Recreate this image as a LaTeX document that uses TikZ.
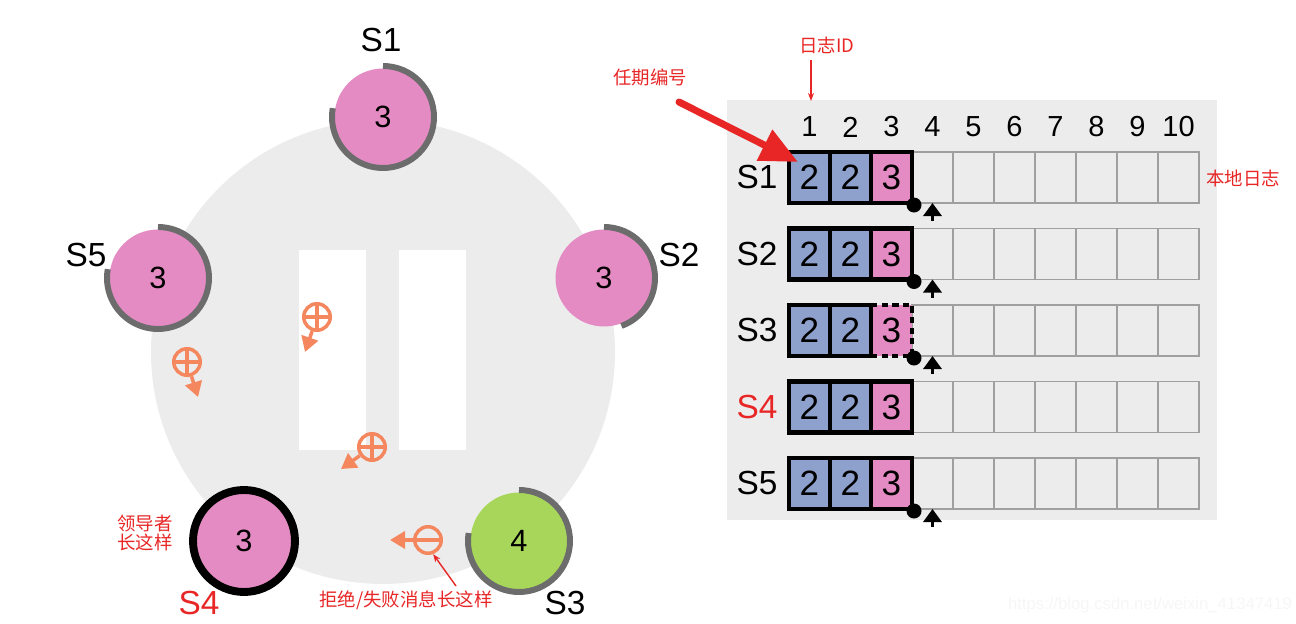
\documentclass[tikz,border=0pt]{standalone}
\usepackage{fontspec}
\setmainfont{Liberation Sans}
\newfontfamily\cjk{Noto Sans CJK SC}
\usepackage{tikz}
\usetikzlibrary{arrows.meta,calc,positioning}
\definecolor{bgray}{RGB}{236,236,236}
\definecolor{termpink}{RGB}{229,139,196}
\definecolor{termblue}{RGB}{142,160,204}
\definecolor{termgreen}{RGB}{168,214,90}
\definecolor{ringgray}{RGB}{108,108,108}
\definecolor{msgorange}{RGB}{245,135,95}
\definecolor{notered}{RGB}{232,38,38}

\begin{document}
\begin{tikzpicture}[x=0.02cm,y=0.02cm,
  server/.style={circle,minimum size=1.94cm,inner sep=0,fill=termpink,font=\fontsize{17.5}{17.5}\selectfont},
  timer/.style={ringgray,line width=3.4pt},
  sname/.style={font=\fontsize{19}{19}\selectfont},
  msg/.style={circle,draw=msgorange,line width=2pt,minimum size=0.53cm,inner sep=0},
  plusmsg/.style={msg,path picture={\draw[msgorange,line width=1.8pt]
      (path picture bounding box.north) -- (path picture bounding box.south)
      (path picture bounding box.west) -- (path picture bounding box.east);}},
  minusmsg/.style={msg,path picture={\draw[msgorange,line width=1.8pt]
      (path picture bounding box.west) -- (path picture bounding box.east);}},
  msgarrow/.style={msgorange,line width=2pt,-{Triangle[length=0.3cm,width=0.34cm]}},
  note/.style={notered,font=\cjk\fontsize{10.5}{10.5}\selectfont,align=center},
  noteline/.style={notered,line width=0.8pt,-{Stealth[length=0.16cm]}},
  bigarrow/.style={notered,line width=4pt,line cap=round,-{Triangle[length=0.75cm,width=0.66cm]}},
  emptycell/.style={rectangle,draw=gray!75,line width=0.8pt,minimum width=0.82cm,minimum height=1.02cm,inner sep=0},
  entry/.style={rectangle,draw=black,line width=2.3pt,minimum width=0.82cm,minimum height=1.02cm,inner sep=0,font=\fontsize{20}{20}\selectfont},
  lastdashed/.style={dash pattern=on 3.5pt off 2.5pt},
  colnum/.style={font=\fontsize{16.5}{16.5}\selectfont},
  nextarrow/.style={line width=2pt,-{Triangle[length=0.26cm,width=0.36cm]}},
  dot/.style={circle,fill=black,minimum size=0.3cm,inner sep=0}
]
\useasboundingbox (0,0) rectangle (1296,-624);

% cluster
\fill[bgray] (383,-352) circle[radius=232];
\fill[white] (299,-250) rectangle (366,-450);
\fill[white] (399,-250) rectangle (466,-450);

\node[server] (s1) at (383,-117) {3};
\node[server] (s2) at (604,-278) {3};
\node[server] (s5) at (158,-278) {3};
\node[server,fill=termgreen] (s3) at (519,-541) {4};
\node[server,draw=black,line width=4.5pt,minimum size=2.04cm] (s4) at (244,-541) {3};

\draw[timer] ($(s1)+(90:51)$) arc[start angle=90,end angle=-190,radius=51];
\draw[timer] ($(s2)+(90:51)$) arc[start angle=90,end angle=-70,radius=51];
\draw[timer] ($(s5)+(90:51)$) arc[start angle=90,end angle=-190,radius=51];
\draw[timer] ($(s3)+(90:51)$) arc[start angle=90,end angle=-189,radius=51];

\node[sname] (l1) at (381,-40) {S1};
\node[sname] (l2) at (679,-255) {S2};
\node[sname] (l5) at (86,-255) {S5};
\node[sname] (l3) at (565,-603) {S3};
\node[sname,notered] (l4) at (199,-603) {S4};

% messages
\node[plusmsg] (m1) at (187,-362) {};
\node[plusmsg] (m2) at (317,-317) {};
\node[plusmsg] (m3) at (372,-447) {};
\node[minusmsg] (m4) at (428,-540) {};
\coordinate (m1t) at (198,-397);
\coordinate (m2t) at (305,-352);
\coordinate (m3t) at (341,-469);
\coordinate (m4t) at (390,-540);
\foreach \m in {1,...,4}
  \draw[msgarrow] (m\m) -- (m\m t);

\node[note] (leadnote) at (145,-533) {领导者\\长这样};
\node[note] (rejnote) at (406,-600) {拒绝/失败消息长这样};
\coordinate (rejtail) at (456,-586);
\draw[noteline] (rejtail) -- (m4.290);

% logs
\fill[bgray] (727,-100) rectangle (1217,-520);
\foreach \c in {1,...,10}
  \node[colnum] (col\c) at (768.5+41*\c,-127) {\c};

\foreach \r/\cl/\st in {1/black/solid,2/black/solid,3/black/lastdashed,4/notered/solid,5/black/solid}{
  \node[sname,\cl] (row\r) at (757,-101-76.5*\r) {S\r};
  \foreach \c in {4,...,10}
    \node[emptycell] (e\r-\c) at (768.5+41*\c,-101-76.5*\r) {};
  \node[entry,fill=termpink,\st] (t\r-3) at (891.5,-101-76.5*\r) {3};
  \node[entry,fill=termblue] (t\r-2) at (850.5,-101-76.5*\r) {2};
  \node[entry,fill=termblue] (t\r-1) at (809.5,-101-76.5*\r) {2};
}
\foreach \r in {1,2,3,5}{
  \node[dot] (d\r) at (t\r-3.south east) {};
  \draw[nextarrow] ($(col4|-t\r-3.south)+(0,-16)$) -- ++(0,18);
}

\node[note] (idnote) at (827,-45) {日志ID};
\coordinate (idtip) at (811,-101);
\draw[noteline] (idnote.south -| idtip) -- (idtip);
\node[note] (termnote) at (650,-77) {任期编号};
\coordinate (termtail) at (679,-102);
\draw[bigarrow] (termtail) -- ($(t1-1.north west)+(11,-12)$);
\node[note] (lognote) at (1243,-178) {本地日志};

\node[gray!7,font=\fontsize{9.5}{9.5}\selectfont] (mark) at (1150,-605) {https://blog.csdn.net/weixin\_41347419};
\end{tikzpicture}
\end{document}
